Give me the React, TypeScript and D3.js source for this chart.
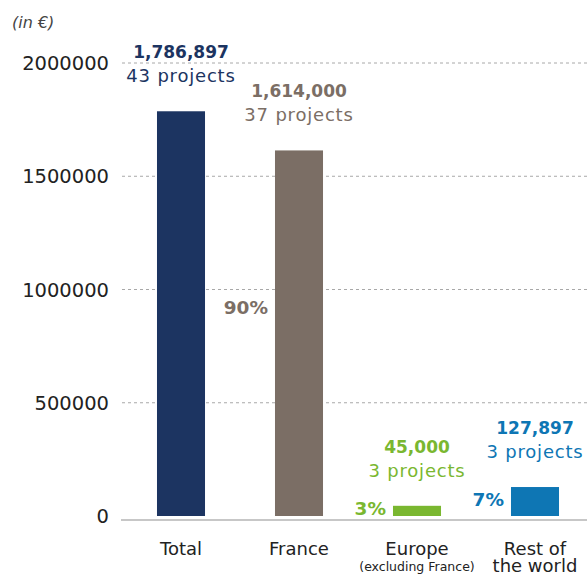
import React from "react";
import * as d3 from "d3";

const categories = ["Total", "France", "Europe", "Rest of the world"];
const axisLabelLines = [["Total"], ["France"], ["Europe"], ["Rest of", "the world"]];
const axisSubLabels = ["", "", "(excluding France)", ""];
const values = [1786897, 1614000, 45000, 127897];
const valueLabels = ["1,786,897", "1,614,000", "45,000", "127,897"];
const projectLabels = ["43 projects", "37 projects", "3 projects", "3 projects"];
const percentLabels = ["", "90%", "3%", "7%"];
const colors = ["#1c3461", "#7b6e65", "#7ab730", "#0e76b4"];
const yTicks = [0, 500000, 1000000, 1500000, 2000000];

const W = 587;
const H = 574;
const FONT = "'DejaVu Sans', sans-serif";

export default function App() {
  const y = d3.scaleLinear().domain([0, 2000000]).range([516, 63]);
  const x = d3
    .scaleBand<string>()
    .domain(categories)
    .range([122, 594])
    .paddingInner(0.593)
    .paddingOuter(0.2965);
  const bw = x.bandwidth();

  return (
    <svg
      width={W}
      height={H}
      style={{ position: "absolute", left: 0, top: 0, display: "block" }}
      fontFamily={FONT}
    >
      <rect x={0} y={0} width={W} height={H} fill="#fff" />
      <text x={12} y={28} fontSize={16} fontStyle="italic" fill="#444">
        (in €)
      </text>
      {yTicks.map((t) => (
        <g key={t}>
          {t > 0 && (
            <line
              x1={122}
              x2={W}
              y1={y(t)}
              y2={y(t)}
              stroke="#a8a8a8"
              strokeWidth={1}
              strokeDasharray="3,3"
            />
          )}
          <text
            x={109}
            y={y(t)}
            dy="0.36em"
            textAnchor="end"
            fontSize={19.5}
            fill="#222"
          >
            {t}
          </text>
        </g>
      ))}
      <line x1={121} x2={W} y1={520} y2={520} stroke="#b5b5b5" strokeWidth={1.5} />
      {categories.map((c, i) => {
        const x0 = x(c) as number;
        const cx = x0 + bw / 2;
        const top = y(values[i]);
        const pctMid = Math.min(y(0) - 7.5, y(values[i] * 0.57));
        return (
          <g key={c}>
            <rect x={x0} y={top} width={bw} height={y(0) - top} fill={colors[i]} />
            <text
              x={cx}
              y={top - 53}
              textAnchor="middle"
              fontSize={17}
              fontWeight="bold"
              fill={colors[i]}
            >
              {valueLabels[i]}
            </text>
            <text
              x={cx}
              y={top - 29}
              textAnchor="middle"
              fontSize={18}
              letterSpacing={0.8}
              fill={colors[i]}
            >
              {projectLabels[i]}
            </text>
            {percentLabels[i] && (
              <text
                x={x0 - 7}
                y={pctMid}
                dy="0.36em"
                textAnchor="end"
                fontSize={18.5}
                fontWeight="bold"
                fill={colors[i]}
              >
                {percentLabels[i]}
              </text>
            )}
            {axisLabelLines[i].map((l, j) => (
              <text
                key={j}
                x={cx}
                y={555 + j * 17}
                textAnchor="middle"
                fontSize={18}
                fill="#222"
              >
                {l}
              </text>
            ))}
            {axisSubLabels[i] && (
              <text x={cx} y={571} textAnchor="middle" fontSize={12.5} fill="#222">
                {axisSubLabels[i]}
              </text>
            )}
          </g>
        );
      })}
    </svg>
  );
}
